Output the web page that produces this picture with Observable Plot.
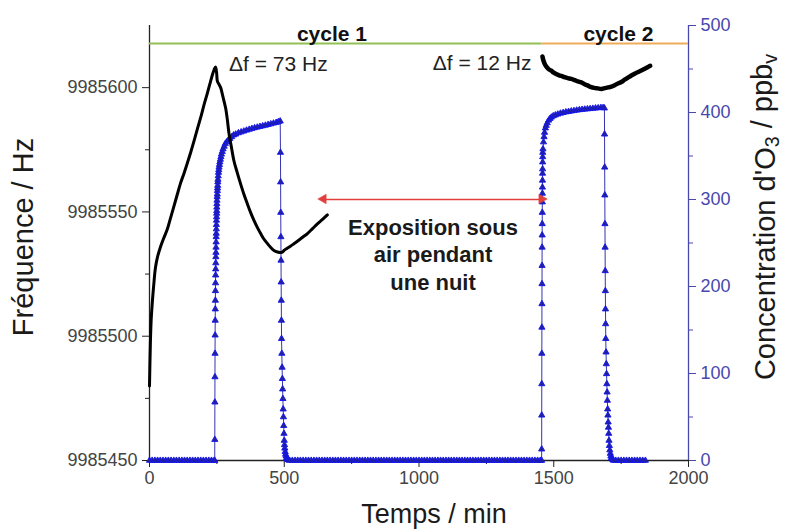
<!DOCTYPE html>
<html>
<head>
<meta charset="utf-8">
<script src="https://cdn.jsdelivr.net/npm/d3@7"></script>
<script src="https://cdn.jsdelivr.net/npm/@observablehq/plot@0.6"></script>
<style>
  html, body { margin: 0; padding: 0; background: #fff; }
  #chart { width: 786px; height: 530px; }
</style>
</head>
<body>
<div id="chart"></div>
<script>
// ---------- axis settings ----------
const freqDomain = [9985450, 9985625];   // left axis (Hz)
const concDomain = [0, 500];             // right axis (ppbv)
const xTicks = [0, 500, 1000, 1500, 2000];
const xMinorTicks = [250, 750, 1250, 1750];
const freqTicks = [9985450, 9985500, 9985550, 9985600];
const freqMinorTicks = [9985475, 9985525, 9985575];
const concTicks = [0, 100, 200, 300, 400, 500];
const concMinorTicks = [50, 150, 250, 350, 450];

// ---------- frequency (black line), cycle 1 ----------
const freq1Time = [0,3,6,10,16,22,30,41,53,66,78,90,103,115,128,140,153,165,178,190,202,214,224,233,240,245,249,252,258,264,270,276,283,289,295,304,313,325,338,350,363,375,388,400,413,425,438,450,462,475,487,495,499,510,523,536,550,568,586,605,623,642,660];
const freq1Hz = [9985480,9985496,9985506,9985513,9985521,9985527.5,9985532,9985536,9985539.5,9985543,9985547.5,9985552,9985557,9985561.5,9985565.5,9985569.5,9985574,9985578.5,9985583.5,9985588,9985593,9985597.5,9985601.5,9985605,9985607.3,9985608.3,9985606,9985602.5,9985601.3,9985600,9985597.5,9985594.8,9985591.5,9985587,9985581.5,9985576,9985570.7,9985566,9985561.3,9985557.2,9985553.3,9985549.8,9985546.5,9985543.8,9985541.2,9985539,9985537.2,9985535.7,9985534.5,9985533.9,9985533.7,9985534,9985534.5,9985535.3,9985536.2,9985537.2,9985538.3,9985539.8,9985541.3,9985543.3,9985545.2,9985547,9985548.8];

// ---------- frequency (black line), cycle 2 ----------
const freq2Time = [1458,1462,1468,1476,1484,1491,1500,1510,1520,1528,1540,1552,1565,1578,1590,1602,1615,1627,1639,1650,1663,1677,1690,1702,1714,1726,1738,1751,1763,1776,1788,1800,1813,1825,1838,1848,1858];
const freq2Hz = [9985612.5,9985610.8,9985609.2,9985608,9985607.2,9985606.8,9985606,9985605.4,9985604.9,9985604.7,9985604.2,9985603.8,9985603.5,9985603,9985602.5,9985602.1,9985601.4,9985600.8,9985600.2,9985599.9,9985599.7,9985599.5,9985599.8,9985600.1,9985600.4,9985601,9985601.7,9985602.3,9985603.2,9985604.1,9985604.9,9985605.6,9985606.3,9985606.9,9985607.6,9985608.2,9985608.8];

// ---------- O3 concentration (blue triangles) ----------
const o3Time = [
  0,10,20,30,40,50,60,70,80,90,100,110,120,130,140,150,160,170,180,190,200,210,220,230,240,242,
  242.3,242.6,242.9,243.2,243.5,243.8,244.1,244.4,244.7,245,245.3,245.6,245.9,246.2,246.5,246.8,247.1,247.4,247.7,248,248.3,248.6,248.9,249.2,249.5,249.8,250.1,250.5,251,251.5,252,252.5,253,253.5,254,
  255,256,257,258,259.5,261,263,265,267,270,273,277,281,286,292,298,305,312,320,330,340,350,360,370,380,390,400,410,420,430,440,450,460,470,478,485,
  486,486.5,487,487.5,488,488.5,489,489.5,490,491,492,493,494,495,496,497,498,499,500,501,502,503.5,505,507,509,511,513,516,520,
  530,540,550,560,570,580,590,600,610,620,630,640,650,660,670,680,690,700,710,720,730,740,750,760,770,780,790,800,810,820,830,840,850,860,870,880,890,900,910,920,930,940,950,960,970,980,990,1000,1010,1020,1030,1040,1050,1060,1070,1080,1090,1100,1110,1120,1130,1140,1150,1160,1170,1180,1190,1200,1210,1220,1230,1240,1250,1260,1270,1280,1290,1300,1310,1320,1330,1340,1350,1360,1370,1380,1390,1400,1410,1420,1430,1440,1450,1455,
  1455.2,1455.4,1455.6,1455.8,1456,1456.2,1456.4,1456.6,1456.8,1457,1457.2,1457.4,1457.6,1457.8,1458,1458.2,1458.4,1458.6,1458.8,1459,1459.2,
  1460,1462,1464,1466,1469,1472,1476,1481,1486,1491,1498,1506,1515,1525,1535,1545,1555,1565,1575,1585,1595,1605,1615,1625,1635,1645,1655,1665,1675,1683,1688,
  1688.5,1689,1689.5,1690,1690.5,1691,1691.5,1692,1692.5,1693,1694,1695,1696,1697,1698,1699,1700,1701,1702,1703,1704,1705,1706.5,1708,1710,1712,1714,1716,1719,1722,
  1730,1740,1750,1760,1770,1780,1790,1800,1810,1820,1830,1840
];
const o3Ppb = [
  0,0,0,0,0,0,0,0,0,0,0,0,0,0,0,0,0,0,0,0,0,0,0,0,0,0,
  24,67,96,123,144,161,174,184,195,204,213,220,227,234,239,245,251,257,261,266,271,276,280,284,287,291,295,299,303,306,310,313,316,320,323,
  327,331,334,337,340,343,346,349,352,355,358,361,364,366,368,370,372,374,375,376.5,377.5,378.5,379.5,380.5,381.5,382.3,383,383.8,384.5,385.2,386,386.8,387.6,388.4,389.2,390,
  354,320,285,257,230,205,184,161,140,123,107,94,82,71,59,50,40,31,23,18,14,10,7,5,3,2,1,0.5,0,
  0,0,0,0,0,0,0,0,0,0,0,0,0,0,0,0,0,0,0,0,0,0,0,0,0,0,0,0,0,0,0,0,0,0,0,0,0,0,0,0,0,0,0,0,0,0,0,0,0,0,0,0,0,0,0,0,0,0,0,0,0,0,0,0,0,0,0,0,0,0,0,0,0,0,0,0,0,0,0,0,0,0,0,0,0,0,0,0,0,0,0,0,0,0,
  13,52,88,123,153,180,203,224,245,259,272,285,297,307,314,322,330,335,343,349,354,
  358,366,372,377,382,385,388,391,393,394.5,396,397,398,399,399.8,400.5,401,401.5,402,402.5,403,403.4,403.7,404,404.3,404.6,405,405.2,405.5,405.5,405,
  375,337,305,272,245,218,195,174,157,140,124.5,111,99.6,88,78.5,69,59,52,44,38,31,23,17,12,8,5,3,2,1,0,
  0,0,0,0,0,0,0,0,0,0,0,0
];

// ---------- annotations ----------
const cycleLabels = ["cycle 1", "cycle 2"];
const cycleStart = [0, 1457];
const cycleEnd = [1457, 2000];
const cycleLabelTime = [677, 1740];
const cycleColors = ["#93bf55", "#efab5c"];
const cycleLineHz = 9985617.8;
const deltaLabels = ["\u0394f = 73 Hz", "\u0394f = 12 Hz"];
const deltaTime = [478, 1234];
const deltaHz = [9985609.3, 9985609.9];
const nightText = "Exposition sous\nair pendant\nune nuit";
const nightTextPos = [1052, 9985533.3];
const nightArrow = [647, 1457, 9985555.0];

// ---------- helpers ----------
const concToHz = c => freqDomain[0] + (c - concDomain[0]) * (freqDomain[1] - freqDomain[0]) / (concDomain[1] - concDomain[0]);
const hzToConc = f => (f - freqDomain[0]) * (concDomain[1] - concDomain[0]) / (freqDomain[1] - freqDomain[0]) + concDomain[0];

const freq1 = freq1Time.map((t, i) => ({t, f: freq1Hz[i]}));
const freq2 = freq2Time.map((t, i) => ({t, f: freq2Hz[i]}));
const o3 = o3Time.map((t, i) => ({t, c: o3Ppb[i], f: concToHz(o3Ppb[i])}));
const cycles = cycleLabels.map((label, i) => ({label, x1: cycleStart[i], x2: cycleEnd[i], xl: cycleLabelTime[i], color: cycleColors[i]}));
const deltas = deltaLabels.map((label, i) => ({label, t: deltaTime[i], f: deltaHz[i]}));
const arrowHeads = [
  {t: nightArrow[0], f: nightArrow[2], rot: -90, dx: 5.5},
  {t: nightArrow[1], f: nightArrow[2], rot: 90, dx: -5.5}
];

const blue = "#4848ad";
const red = "#e2403c";
const font = "'Liberation Sans', Arial, Helvetica, sans-serif";

const chart = Plot.plot({
  width: 786,
  height: 530,
  marginLeft: 149,
  marginRight: 98,
  marginTop: 25,
  marginBottom: 70,
  x: {domain: [0, 2000]},
  y: {domain: freqDomain},
  style: {fontFamily: font, fontSize: "18px", color: "#333", background: "#fff", overflow: "visible"},
  marks: [
    // axes
    Plot.axisX({ticks: xTicks, tickSize: 7, tickPadding: 4, tickFormat: d => String(d), label: null, fontSize: 18, stroke: "#222", fill: "#444"}),
    Plot.axisX({ticks: xMinorTicks, tickSize: 4, tickFormat: () => "", label: null, stroke: "#222"}),
    Plot.axisY({ticks: freqTicks, tickSize: 7, tickPadding: 5, tickFormat: d => String(d), label: null, fontSize: 18, stroke: "#222", fill: "#444"}),
    Plot.axisY({ticks: freqMinorTicks, tickSize: 4, tickFormat: () => "", label: null, stroke: "#222"}),
    Plot.axisY({anchor: "right", ticks: concTicks.map(concToHz), tickSize: 7, tickPadding: 5, tickFormat: f => String(Math.round(hzToConc(f))), label: null, fontSize: 18, stroke: blue, fill: blue}),
    Plot.axisY({anchor: "right", ticks: concMinorTicks.map(concToHz), tickSize: 4, tickFormat: () => "", label: null, stroke: blue}),
    Plot.ruleX([0], {stroke: "#222", strokeWidth: 1.3}),
    Plot.ruleX([2000], {stroke: blue, strokeWidth: 1.3}),
    Plot.ruleY([freqDomain[0]], {stroke: "#222", strokeWidth: 1.3}),

    // cycle bars
    Plot.ruleY(cycles, {y: () => cycleLineHz, x1: "x1", x2: "x2", stroke: "color", strokeWidth: 2}),
    Plot.text(cycles, {x: "xl", frameAnchor: "top", text: "label", fontWeight: "bold", fontSize: 21, fill: "#111", dy: 1}),

    // O3 concentration
    Plot.line(o3, {x: "t", y: "f", stroke: "#3535b0", strokeWidth: 1}),
    Plot.dot(o3, {x: "t", y: "f", symbol: "triangle", r: 2.3, fill: "#22229c", stroke: "#1414ee", strokeWidth: 0.9}),

    // frequency
    Plot.line(freq1, {x: "t", y: "f", stroke: "#000", strokeWidth: 3, strokeLinejoin: "round", curve: "catmull-rom"}),
    Plot.line(freq2, {x: "t", y: "f", stroke: "#000", strokeWidth: 4.5, strokeLinejoin: "round", curve: "catmull-rom"}),

    // annotations
    Plot.text(deltas, {x: "t", y: "f", text: "label", fontSize: 21, fill: "#222"}),
    Plot.link([nightArrow], {x1: d => d[0], x2: d => d[1], y1: d => d[2], y2: d => d[2], stroke: red, strokeWidth: 1.6}),
    Plot.dot(arrowHeads, {x: "t", y: "f", symbol: "triangle", r: 3.6, rotate: "rot", dx: "dx", fill: red, stroke: red, strokeWidth: 0.5}),
    Plot.text([nightText], {x: () => nightTextPos[0], y: () => nightTextPos[1], text: d => d, fontWeight: "bold", fontSize: 22, lineHeight: 1.25, fill: "#1a1a1a"}),

    // axis titles
    Plot.text(["Fréquence / Hz"], {frameAnchor: "left", textAnchor: "middle", rotate: -90, dx: -117, dy: -6, lineAnchor: "bottom", fontSize: 29, fill: "#1a1a1a"}),
    Plot.text(["Temps / min"], {frameAnchor: "bottom", textAnchor: "middle", dx: 15, dy: 62, lineAnchor: "bottom", fontSize: 27, fill: "#1a1a1a"}),
    Plot.text(["Concentration d'O3 / ppbv"], {frameAnchor: "right", textAnchor: "middle", rotate: -90, dx: 86, dy: -26, lineAnchor: "bottom", fontSize: 29, fill: "#1a1a1a"})
  ]
});

document.getElementById("chart").appendChild(chart);

// subscripts in the right-hand title
d3.select(chart).selectAll("text").each(function() {
  const el = d3.select(this);
  if (el.text() === "Concentration d'O3 / ppbv") {
    el.text(null);
    el.append("tspan").text("Concentration d'O");
    el.append("tspan").attr("dy", "0.22em").attr("font-size", "68%").text("3");
    el.append("tspan").attr("dy", "-0.22em").text(" / ppb");
    el.append("tspan").attr("dy", "0.22em").attr("font-size", "68%").text("v");
  }
});
</script>
</body>
</html>
